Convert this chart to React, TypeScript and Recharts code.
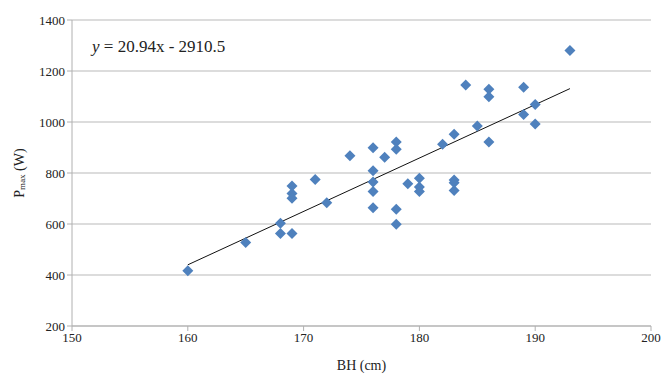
import React from "react";
import { CartesianGrid, ReferenceLine, Scatter, ScatterChart, XAxis, YAxis } from "recharts";

// body height (cm) and peak power (W)
const bhValues = [
  160, 165, 168, 168, 169, 169, 169, 169, 171, 172, 174, 176, 176, 176, 176, 176, 177, 178, 178, 178,
  178, 179, 180, 180, 180, 182, 183, 183, 183, 183, 184, 185, 186, 186, 186, 189, 189, 190, 190, 193,
];
const pmaxValues = [
  417, 527, 603, 563, 749, 720, 701, 563, 775, 683, 868, 899, 809, 765, 727, 664, 862, 922, 893, 658,
  599, 758, 779, 745, 727, 913, 952, 773, 762, 731, 1145, 984, 1128, 1099, 922, 1136, 1029, 1069, 992, 1280,
];

const xTicks = [150, 160, 170, 180, 190, 200];
const yTicks = [200, 400, 600, 800, 1000, 1200, 1400];

// linear trend y = 20.94x - 2910.5, drawn over the data range
const slope = 20.94;
const intercept = -2910.5;
const trendRange = [160, 193];

const points = bhValues.map((bh, i) => ({ bh, pmax: pmaxValues[i] }));
const trendSegment = trendRange.map((x) => ({ x, y: slope * x + intercept }));

const FONT = "'Liberation Serif', 'DejaVu Serif', serif";
const tickStyle = { fontSize: 13, fill: "#222", fontFamily: FONT };

function Diamond(props: any) {
  const { cx, cy } = props;
  const r = 5.5;
  return (
    <polygon
      points={`${cx},${cy - r} ${cx + r},${cy} ${cx},${cy + r} ${cx - r},${cy}`}
      fill="#4f81bd"
    />
  );
}

function YTitle(props: any) {
  const vb = props.viewBox;
  const x = vb.x + 19;
  const y = vb.y + vb.height / 2;
  return (
    <text
      x={x}
      y={y}
      transform={`rotate(-90, ${x}, ${y})`}
      textAnchor="middle"
      dominantBaseline="central"
      fontFamily={FONT}
      fontSize={14}
      fill="#222"
    >
      P
      <tspan fontSize={9} dy={3}>max</tspan>
      <tspan dy={-3}> (W)</tspan>
    </text>
  );
}

export default function App() {
  return (
    <div style={{ position: "fixed", left: 0, top: 0, width: 662, height: 374, background: "#fff" }}>
      <ScatterChart width={662} height={374} margin={{ top: 20, right: 11, bottom: 0, left: 0 }}>
        <CartesianGrid horizontal vertical={false} stroke="#b9b9b9" />
        <XAxis
          type="number"
          dataKey="bh"
          domain={[150, 200]}
          ticks={xTicks}
          height={48}
          tick={tickStyle}
          tickSize={5}
          stroke="#b0b0b0"
          label={{ value: "BH (cm)", position: "insideBottom", offset: 4, style: { fontSize: 14, fill: "#222", fontFamily: FONT } }}
        />
        <YAxis
          type="number"
          dataKey="pmax"
          domain={[200, 1400]}
          ticks={yTicks}
          width={72}
          tick={tickStyle}
          tickSize={5}
          stroke="#b0b0b0"
          label={{ content: YTitle }}
        />
        <ReferenceLine
          segment={[
            { x: trendSegment[0].x, y: trendSegment[0].y },
            { x: trendSegment[1].x, y: trendSegment[1].y },
          ]}
          stroke="#111"
          strokeWidth={1}
          ifOverflow="visible"
        />
        <Scatter data={points} shape={Diamond} isAnimationActive={false} />
      </ScatterChart>
      <div
        style={{
          position: "absolute",
          left: 92,
          top: 37,
          fontFamily: FONT,
          fontSize: 17,
          color: "#222",
          whiteSpace: "nowrap",
        }}
      >
        <i>y</i> = 20.94x - 2910.5
      </div>
    </div>
  );
}
